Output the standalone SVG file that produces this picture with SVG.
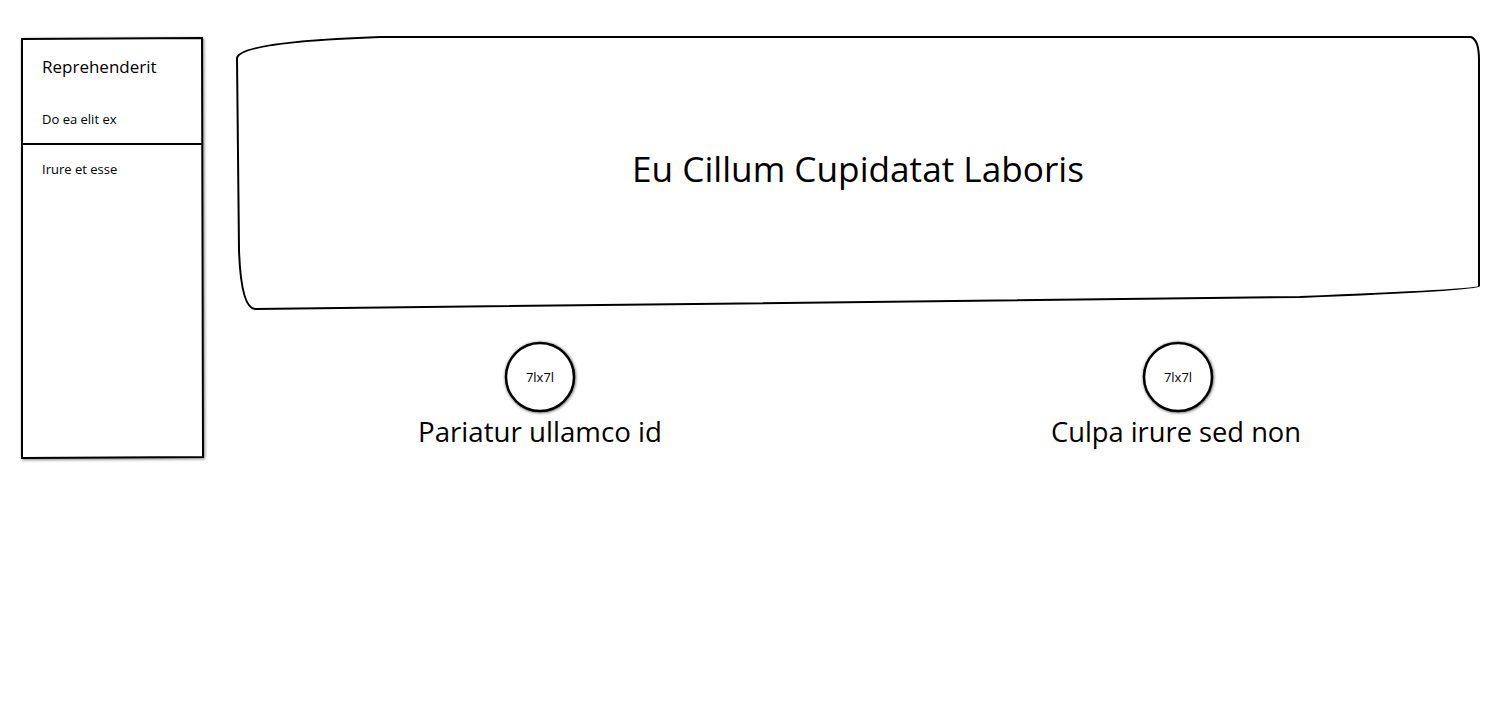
<svg xmlns="http://www.w3.org/2000/svg" width="1500" height="720" viewBox="0 0 1500 720">
<style>
.ln{fill:#fff;stroke:#000;stroke-width:2}
.c{fill:#fff;stroke:#000;stroke-width:2.5}
.t{font-family:"Open Sans","Liberation Sans",sans-serif;fill:#000}
</style>
<defs>
<filter id="sh" x="-20%" y="-20%" width="140%" height="140%">
<feDropShadow dx="1" dy="1" stdDeviation="1.5" flood-color="#000" flood-opacity="0.5"/>
</filter>
<filter id="glow" x="-20%" y="-20%" width="140%" height="140%">
<feDropShadow dx="0.5" dy="0.5" stdDeviation="1.5" flood-color="#000" flood-opacity="0.7"/>
</filter>
</defs>
<rect width="1500" height="720" fill="#fff"/>
<g id="sidebar">
<path class="ln" filter="url(#sh)" d="M22,39 L202,38 L203,457 L22,458 Z"/>
<line x1="22" y1="144" x2="203" y2="144" stroke="#000" stroke-width="2"/>
<text class="t" x="42" y="73" font-size="17">Reprehenderit</text>
<text class="t" x="42" y="124" font-size="13">Do ea elit ex</text>
<text class="t" x="42" y="174" font-size="13">Irure et esse</text>
</g>
<g id="header">
<path class="ln" d="M237,58 Q240,42 380,37 L1471,37 Q1479,40 1479,60 L1479,286 Q1479,290 1300,297 L255,309 Q241,308 239,250 Z"/>
<text class="t" x="858" y="182" font-size="34" text-anchor="middle" textLength="452" lengthAdjust="spacingAndGlyphs">Eu Cillum Cupidatat Laboris</text>
</g>
<g id="node1">
<circle class="c" filter="url(#glow)" cx="540" cy="377" r="34"/>
<text class="t" x="540" y="382" font-size="13" text-anchor="middle">7lx7l</text>
<text class="t" x="540" y="442" font-size="28" text-anchor="middle" textLength="244" lengthAdjust="spacingAndGlyphs">Pariatur ullamco id</text>
</g>
<g id="node2">
<circle class="c" filter="url(#glow)" cx="1178" cy="377" r="34"/>
<text class="t" x="1178" y="382" font-size="13" text-anchor="middle">7lx7l</text>
<text class="t" x="1176" y="442" font-size="28" text-anchor="middle" textLength="250" lengthAdjust="spacingAndGlyphs">Culpa irure sed non</text>
</g>
<g id="connectors"></g>
</svg>
